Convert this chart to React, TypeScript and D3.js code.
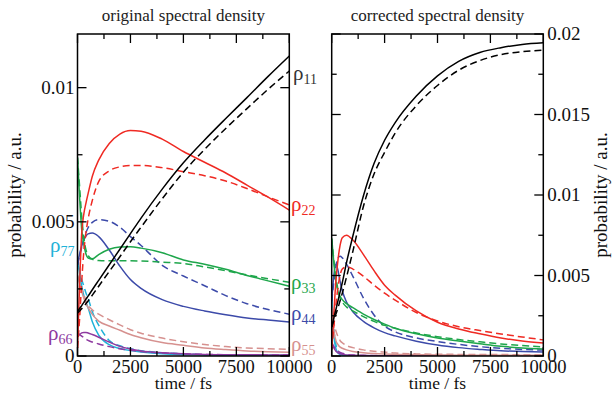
import React from 'react';
import * as d3 from 'd3';

// time grid (fs)
const TIME = [0, 100, 200, 300, 400, 500, 700, 1000, 1500, 2000, 2500, 3000, 4000, 5000, 6000, 7000, 8000, 9000, 10000];

// ---------- original spectral density (values in 1e-3) ----------
const ORIG_11_SOLID = [1.65, 1.77, 1.88, 2.0, 2.12, 2.23, 2.47, 2.82, 3.4, 3.98, 4.56, 5.14, 6.22, 7.2, 8.05, 8.85, 9.63, 10.42, 11.18];
const ORIG_11_DASH = [1.6, 1.68, 1.76, 1.85, 1.95, 2.05, 2.27, 2.6, 3.15, 3.7, 4.26, 4.8, 5.86, 6.85, 7.7, 8.48, 9.22, 9.94, 10.62];
const ORIG_22_SOLID = [0.3, 2.7, 4.6, 5.3, 5.7, 6.05, 6.7, 7.3, 7.92, 8.27, 8.4, 8.38, 8.08, 7.62, 7.22, 6.82, 6.37, 5.92, 5.44];
const ORIG_22_DASH = [0.3, 1.4, 2.8, 3.9, 4.6, 5.1, 5.8, 6.5, 6.9, 7.05, 7.1, 7.1, 7.02, 6.87, 6.72, 6.52, 6.24, 5.93, 5.63];
const ORIG_33_SOLID = [7.4, 5.9, 4.7, 4.15, 3.8, 3.65, 3.62, 3.78, 3.98, 4.06, 4.07, 4.02, 3.85, 3.58, 3.42, 3.23, 3.0, 2.8, 2.6];
const ORIG_33_DASH = [7.4, 6.3, 5.2, 4.4, 3.95, 3.75, 3.6, 3.56, 3.55, 3.55, 3.55, 3.54, 3.5, 3.45, 3.32, 3.18, 3.02, 2.88, 2.75];
const ORIG_44_SOLID = [3.4, 3.8, 4.1, 4.33, 4.47, 4.55, 4.58, 4.45, 3.95, 3.35, 2.85, 2.52, 2.1, 1.85, 1.68, 1.54, 1.42, 1.34, 1.27];
const ORIG_44_DASH = [3.4, 3.75, 4.05, 4.35, 4.6, 4.78, 4.98, 5.08, 5.02, 4.8, 4.45, 4.12, 3.38, 2.98, 2.62, 2.25, 1.95, 1.73, 1.56];
const ORIG_55_SOLID = [3.0, 2.7, 2.4, 2.15, 1.95, 1.8, 1.55, 1.3, 1.12, 0.96, 0.8, 0.68, 0.5, 0.4, 0.3, 0.24, 0.19, 0.16, 0.14];
const ORIG_55_DASH = [3.0, 2.75, 2.5, 2.3, 2.05, 1.9, 1.72, 1.56, 1.35, 1.16, 0.98, 0.85, 0.67, 0.53, 0.43, 0.35, 0.3, 0.27, 0.25];
const ORIG_66_SOLID = [0.72, 0.8, 0.86, 0.88, 0.88, 0.86, 0.8, 0.7, 0.52, 0.36, 0.26, 0.19, 0.12, 0.08, 0.06, 0.05, 0.05, 0.04, 0.04];
const ORIG_66_DASH = [0.85, 0.8, 0.74, 0.68, 0.63, 0.58, 0.52, 0.45, 0.35, 0.27, 0.21, 0.17, 0.11, 0.08, 0.06, 0.05, 0.05, 0.04, 0.04];
const ORIG_77_SOLID = [3.7, 3.1, 2.6, 2.25, 2.0, 1.8, 1.28, 0.78, 0.42, 0.28, 0.2, 0.15, 0.08, 0.05, 0.04, 0.03, 0.03, 0.02, 0.02];
const ORIG_77_DASH = [3.7, 3.2, 2.85, 2.6, 2.35, 2.15, 1.65, 1.15, 0.58, 0.38, 0.27, 0.2, 0.12, 0.08, 0.05, 0.04, 0.03, 0.03, 0.02];

// ---------- corrected spectral density (values in 1e-3) ----------
const CORR_11_SOLID = [1.8, 2.35, 2.9, 3.45, 4.0, 4.55, 5.8, 7.45, 9.95, 11.95, 13.4, 14.5, 16.15, 17.4, 18.3, 18.85, 19.15, 19.35, 19.45];
const CORR_11_DASH = [1.8, 2.2, 2.6, 3.0, 3.45, 3.9, 4.9, 6.5, 9.3, 11.3, 12.65, 13.85, 15.55, 16.8, 17.75, 18.35, 18.72, 18.9, 19.0];
const CORR_22_SOLID = [0.4, 2.6, 4.7, 6.0, 6.9, 7.35, 7.5, 7.2, 6.3, 5.3, 4.4, 3.78, 2.8, 2.1, 1.68, 1.38, 1.12, 0.93, 0.8];
const CORR_22_DASH = [0.4, 1.8, 3.2, 4.3, 5.05, 5.4, 5.55, 5.4, 4.95, 4.4, 3.9, 3.47, 2.7, 2.17, 1.82, 1.58, 1.37, 1.18, 1.0];
const CORR_33_SOLID = [7.3, 5.8, 4.6, 4.0, 3.7, 3.5, 3.25, 3.0, 2.6, 2.27, 1.98, 1.72, 1.38, 1.12, 0.93, 0.76, 0.6, 0.5, 0.43];
const CORR_33_DASH = [7.3, 6.0, 4.9, 4.1, 3.6, 3.35, 3.05, 2.8, 2.45, 2.15, 1.9, 1.72, 1.43, 1.2, 1.02, 0.88, 0.75, 0.65, 0.57];
const CORR_44_SOLID = [3.4, 5.0, 5.7, 5.3, 4.6, 4.05, 3.35, 2.75, 2.15, 1.75, 1.45, 1.25, 0.92, 0.68, 0.52, 0.41, 0.32, 0.28, 0.25];
const CORR_44_DASH = [3.4, 4.6, 5.6, 6.1, 6.2, 6.1, 5.7, 4.95, 3.6, 2.55, 1.85, 1.5, 1.12, 0.9, 0.72, 0.58, 0.48, 0.41, 0.37];
const CORR_55_SOLID = [3.0, 1.6, 0.95, 0.7, 0.55, 0.48, 0.38, 0.28, 0.2, 0.15, 0.12, 0.1, 0.08, 0.06, 0.05, 0.05, 0.04, 0.04, 0.04];
const CORR_55_DASH = [3.0, 2.1, 1.55, 1.2, 0.95, 0.82, 0.65, 0.52, 0.38, 0.3, 0.25, 0.18, 0.13, 0.11, 0.1, 0.09, 0.09, 0.08, 0.08];
const CORR_66_SOLID = [0.75, 0.5, 0.3, 0.2, 0.14, 0.1, 0.06, 0.04, 0.03, 0.02, 0.02, 0.02, 0.01, 0.01, 0.01, 0.01, 0.01, 0.01, 0.01];
const CORR_66_DASH = [0.85, 0.6, 0.42, 0.3, 0.22, 0.17, 0.1, 0.06, 0.04, 0.03, 0.02, 0.02, 0.02, 0.01, 0.01, 0.01, 0.01, 0.01, 0.01];
const CORR_77_SOLID = [3.7, 1.3, 0.45, 0.18, 0.09, 0.05, 0.03, 0.02, 0.01, 0.01, 0.01, 0.01, 0.01, 0.01, 0.01, 0.01, 0.01, 0.01, 0.01];
const CORR_77_DASH = [3.7, 1.7, 0.7, 0.32, 0.16, 0.09, 0.05, 0.03, 0.02, 0.01, 0.01, 0.01, 0.01, 0.01, 0.01, 0.01, 0.01, 0.01, 0.01];

const STATES = ['77', '66', '55', '44', '33', '22', '11'];
const COLORS: Record<string, string> = {
  '11': '#000000',
  '22': '#ef2a23',
  '33': '#1ea64b',
  '44': '#3c4aa9',
  '55': '#d6918f',
  '66': '#8e3aa0',
  '77': '#1fb2d8',
};
const LABEL_COLORS: Record<string, string> = { ...COLORS, '11': '#333333' };

const ORIG: Record<string, [number[], number[]]> = {
  '11': [ORIG_11_SOLID, ORIG_11_DASH],
  '22': [ORIG_22_SOLID, ORIG_22_DASH],
  '33': [ORIG_33_SOLID, ORIG_33_DASH],
  '44': [ORIG_44_SOLID, ORIG_44_DASH],
  '55': [ORIG_55_SOLID, ORIG_55_DASH],
  '66': [ORIG_66_SOLID, ORIG_66_DASH],
  '77': [ORIG_77_SOLID, ORIG_77_DASH],
};
const CORR: Record<string, [number[], number[]]> = {
  '11': [CORR_11_SOLID, CORR_11_DASH],
  '22': [CORR_22_SOLID, CORR_22_DASH],
  '33': [CORR_33_SOLID, CORR_33_DASH],
  '44': [CORR_44_SOLID, CORR_44_DASH],
  '55': [CORR_55_SOLID, CORR_55_DASH],
  '66': [CORR_66_SOLID, CORR_66_DASH],
  '77': [CORR_77_SOLID, CORR_77_DASH],
};

const X_MAJOR = [0, 2500, 5000, 7500, 10000];
const X_MINOR = [1250, 3750, 6250, 8750];
const X_TICK_LABELS = ['0', '2500', '5000', '7500', '10000'];
const YL_MAJOR = [0, 0.005, 0.01];
const YL_MINOR = [0.0025, 0.0075];
const YL_LABELS = ['0', '0.005', '0.01'];
const YR_MAJOR = [0, 0.005, 0.01, 0.015, 0.02];
const YR_MINOR = [0.0025, 0.0075, 0.0125, 0.0175];
const YR_LABELS = ['0', '0.005', '0.01', '0.015', '0.02'];

// labels next to the original panel: [state, x, y]
const LABELS: [string, number, number][] = [
  ['11', 293, 80],
  ['22', 291, 211],
  ['33', 291, 289],
  ['44', 291, 320],
  ['55', 291, 351],
  ['77', 50, 252],
  ['66', 48, 340],
];

const FONT = 'Liberation Serif';
const TOP = 34;
const BOTTOM = 356;

type PanelProps = {
  id: string;
  x0: number;
  x1: number;
  yMax: number;
  data: Record<string, [number[], number[]]>;
  title: string;
  yMajor: number[];
  yMinor: number[];
  yLabels: string[];
  labelSide: 'left' | 'right';
};

function Panel({ id, x0, x1, yMax, data, title, yMajor, yMinor, yLabels, labelSide }: PanelProps) {
  const x = d3.scaleLinear().domain([0, 10000]).range([x0, x1]);
  const y = d3.scaleLinear().domain([0, yMax]).range([BOTTOM, TOP]);
  const line = d3
    .line<number>()
    .x((_, i) => x(TIME[i]))
    .y((d) => y(d * 1e-3))
    .curve(d3.curveMonotoneX);
  const major = 9;
  const minor = 5;
  return (
    <g>
      <defs>
        <clipPath id={id}>
          <rect x={x0} y={TOP} width={x1 - x0} height={BOTTOM - TOP} />
        </clipPath>
      </defs>
      <g clipPath={`url(#${id})`} fill="none" strokeWidth={1.5}>
        {STATES.map((s) => (
          <g key={s} stroke={COLORS[s]}>
            <path d={line(data[s][1]) || ''} strokeDasharray="7,4" />
            <path d={line(data[s][0]) || ''} />
          </g>
        ))}
      </g>
      <g stroke="#000" strokeWidth={1.3}>
        {X_MAJOR.map((t) => (
          <g key={'xM' + t}>
            <line x1={x(t)} x2={x(t)} y1={BOTTOM} y2={BOTTOM - major} />
            <line x1={x(t)} x2={x(t)} y1={TOP} y2={TOP + major} />
          </g>
        ))}
        {X_MINOR.map((t) => (
          <g key={'xm' + t}>
            <line x1={x(t)} x2={x(t)} y1={BOTTOM} y2={BOTTOM - minor} />
            <line x1={x(t)} x2={x(t)} y1={TOP} y2={TOP + minor} />
          </g>
        ))}
        {yMajor.map((v) => (
          <g key={'yM' + v}>
            <line x1={x0} x2={x0 + major} y1={y(v)} y2={y(v)} />
            <line x1={x1} x2={x1 - major} y1={y(v)} y2={y(v)} />
          </g>
        ))}
        {yMinor.map((v) => (
          <g key={'ym' + v}>
            <line x1={x0} x2={x0 + minor} y1={y(v)} y2={y(v)} />
            <line x1={x1} x2={x1 - minor} y1={y(v)} y2={y(v)} />
          </g>
        ))}
      </g>
      <rect x={x0} y={TOP} width={x1 - x0} height={BOTTOM - TOP} fill="none" stroke="#000" strokeWidth={1.5} />
      <g fontFamily={FONT} fontSize={19} fill="#111">
        {X_MAJOR.map((t, i) => (
          <text key={'xl' + t} x={x(t)} y={373} fontSize={18.5} textAnchor="middle">
            {X_TICK_LABELS[i]}
          </text>
        ))}
        {yMajor.map((v, i) => (
          <text
            key={'yl' + v}
            x={labelSide === 'left' ? x0 - 3 : x1 + 4}
            y={y(v)}
            dy="0.33em"
            textAnchor={labelSide === 'left' ? 'end' : 'start'}
          >
            {yLabels[i]}
          </text>
        ))}
        <text x={(x0 + x1) / 2} y={389} textAnchor="middle" fontSize={17.5}>
          time / fs
        </text>
        <text
          transform={`translate(${labelSide === 'left' ? 21 : 607},${(TOP + BOTTOM) / 2}) rotate(-90)`}
          textAnchor="middle"
        >
          probability / a.u.
        </text>
      </g>
      <text x={(x0 + x1) / 2} y={21} textAnchor="middle" fontFamily={FONT} fontSize={17} fill="#222">
        {title}
      </text>
    </g>
  );
}

export default function App() {
  return (
    <svg
      width={614}
      height={393}
      style={{ position: 'absolute', left: 0, top: 0, background: '#fff' }}
      xmlns="http://www.w3.org/2000/svg"
    >
      <rect width={614} height={393} fill="#fff" />
      <Panel
        id="clipL"
        x0={77.5}
        x1={289.3}
        yMax={0.012}
        data={ORIG}
        title="original spectral density"
        yMajor={YL_MAJOR}
        yMinor={YL_MINOR}
        yLabels={YL_LABELS}
        labelSide="left"
      />
      <Panel
        id="clipR"
        x0={331.7}
        x1={543.3}
        yMax={0.02}
        data={CORR}
        title="corrected spectral density"
        yMajor={YR_MAJOR}
        yMinor={YR_MINOR}
        yLabels={YR_LABELS}
        labelSide="right"
      />
      <g fontFamily={FONT}>
        {LABELS.map(([s, lx, ly]) => (
          <text key={s} x={lx} y={ly} fill={LABEL_COLORS[s]} fontSize={21}>
            ρ
            <tspan fontSize={14} dy={4}>
              {s}
            </tspan>
          </text>
        ))}
      </g>
    </svg>
  );
}
